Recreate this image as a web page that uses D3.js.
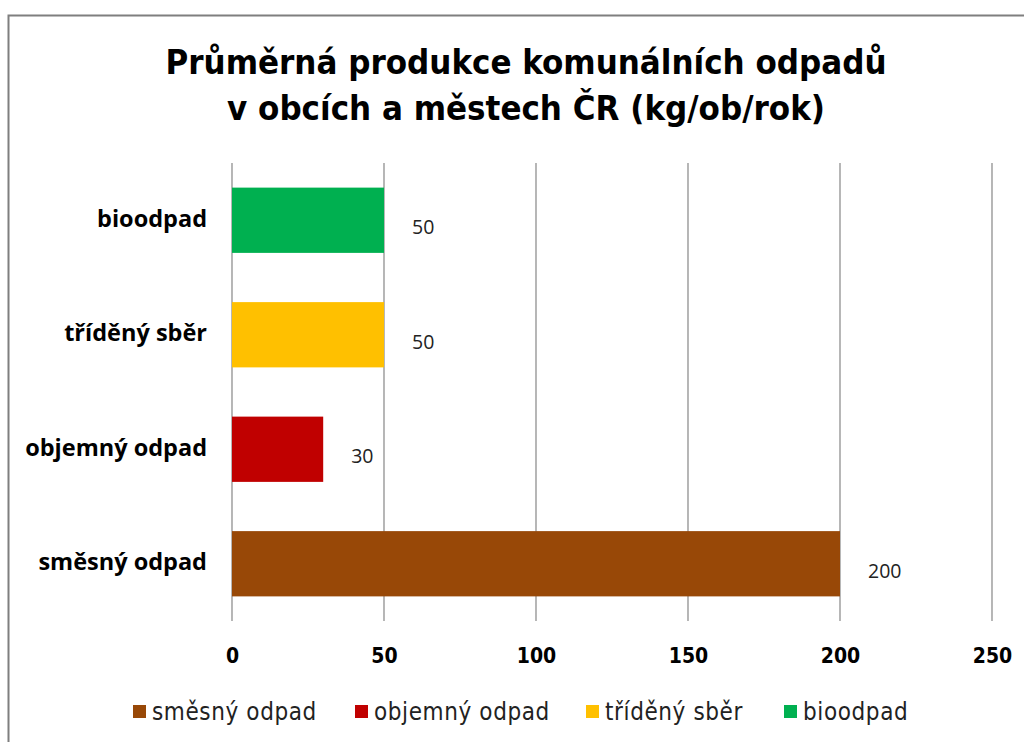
<!DOCTYPE html>
<html>
<head>
<meta charset="utf-8">
<script src="https://cdn.jsdelivr.net/npm/d3@7"></script>
<style>
  body { margin: 0; background: #fff; }
  svg { display: block; }
</style>
</head>
<body>
<svg id="chart"></svg>
<script>
// data
const categories = ["směsný odpad", "objemný odpad", "tříděný sběr", "bioodpad"];
const values = [200, 30, 50, 50];
const colors = ["#984807", "#C00000", "#FFC000", "#00B050"];
const xTicks = [0, 50, 100, 150, 200, 250];
const titleLines = ["Průměrná produkce komunálních odpadů", "v obcích a městech ČR (kg/ob/rok)"];

const W = 1024, H = 742;
const svg = d3.select("#chart").attr("width", W).attr("height", H);

// outer frame (only top and left are visible in the picture)
svg.append("rect")
    .attr("x", 8.5).attr("y", 15.5)
    .attr("width", W + 20).attr("height", H + 20)
    .attr("fill", "#fff")
    .attr("stroke", "#7f7f7f")
    .attr("stroke-width", 2);

const fontMain = "'DejaVu Sans Condensed', 'Open Sans', sans-serif";

// title
svg.selectAll(".title")
    .data(titleLines)
    .enter().append("text")
    .attr("class", "title")
    .attr("x", 526)
    .attr("y", (d, i) => 74 + i * 46)
    .attr("text-anchor", "middle")
    .style("font-family", fontMain)
    .style("font-weight", "bold")
    .style("font-size", "34.5px")
    .attr("fill", "#000")
    .text(d => d);

const plot = {left: 232, right: 992, top: 163, bottom: 621};

const x = d3.scaleLinear().domain([0, 250]).range([plot.left, plot.right]);
// bioodpad on top, směsný odpad at the bottom
const y = d3.scaleBand()
    .domain(categories.slice().reverse())
    .range([plot.top, plot.bottom])
    .paddingInner(0.43)
    .paddingOuter(0.215);

// gridlines
svg.selectAll(".grid")
    .data(xTicks)
    .enter().append("line")
    .attr("class", "grid")
    .attr("x1", d => x(d)).attr("x2", d => x(d))
    .attr("y1", plot.top).attr("y2", plot.bottom)
    .attr("stroke", "#868686")
    .attr("stroke-width", 1.2);

// bars
svg.selectAll(".bar")
    .data(categories)
    .enter().append("rect")
    .attr("class", "bar")
    .attr("x", x(0))
    .attr("y", d => y(d))
    .attr("width", (d, i) => x(values[i]) - x(0))
    .attr("height", y.bandwidth())
    .attr("fill", (d, i) => colors[i]);

// value labels
svg.selectAll(".val")
    .data(categories)
    .enter().append("text")
    .attr("class", "val")
    .attr("x", (d, i) => x(values[i]) + 28)
    .attr("y", d => y(d) + y.bandwidth() / 2 + 14)
    .style("font-family", "'Open Sans', sans-serif")
    .style("font-size", "19.5px")
    .attr("fill", "#222")
    .text((d, i) => values[i]);

// category labels
const yAxis = svg.append("g")
    .attr("transform", `translate(${plot.left},0)`)
    .call(d3.axisLeft(y).tickSize(0).tickPadding(25));
yAxis.select(".domain").remove();
yAxis.selectAll("text")
    .style("font-family", "'Open Sans', sans-serif")
    .style("font-weight", "bold")
    .style("font-size", "23.5px")
    .attr("fill", "#000")
    .attr("dy", "0.28em");

// x axis tick labels
const xAxis = svg.append("g")
    .attr("transform", `translate(0,${plot.bottom})`)
    .call(d3.axisBottom(x).tickValues(xTicks).tickSize(0).tickPadding(27).tickFormat(d3.format("d")));
xAxis.select(".domain").remove();
xAxis.selectAll("text")
    .style("font-family", fontMain)
    .style("font-weight", "bold")
    .style("font-size", "21px")
    .attr("fill", "#000");

// legend
const legendX = [133, 355, 586, 784];
const legend = svg.selectAll(".leg")
    .data(categories)
    .enter().append("g")
    .attr("class", "leg")
    .attr("transform", (d, i) => `translate(${legendX[i]},705)`);
legend.append("rect")
    .attr("width", 13).attr("height", 13)
    .attr("fill", (d, i) => colors[i]);
legend.append("text")
    .attr("x", 19).attr("y", 15)
    .style("font-family", fontMain)
    .style("font-size", "24px")
    .style("letter-spacing", "0.6px")
    .attr("fill", "#222")
    .text(d => d);
</script>
</body>
</html>
